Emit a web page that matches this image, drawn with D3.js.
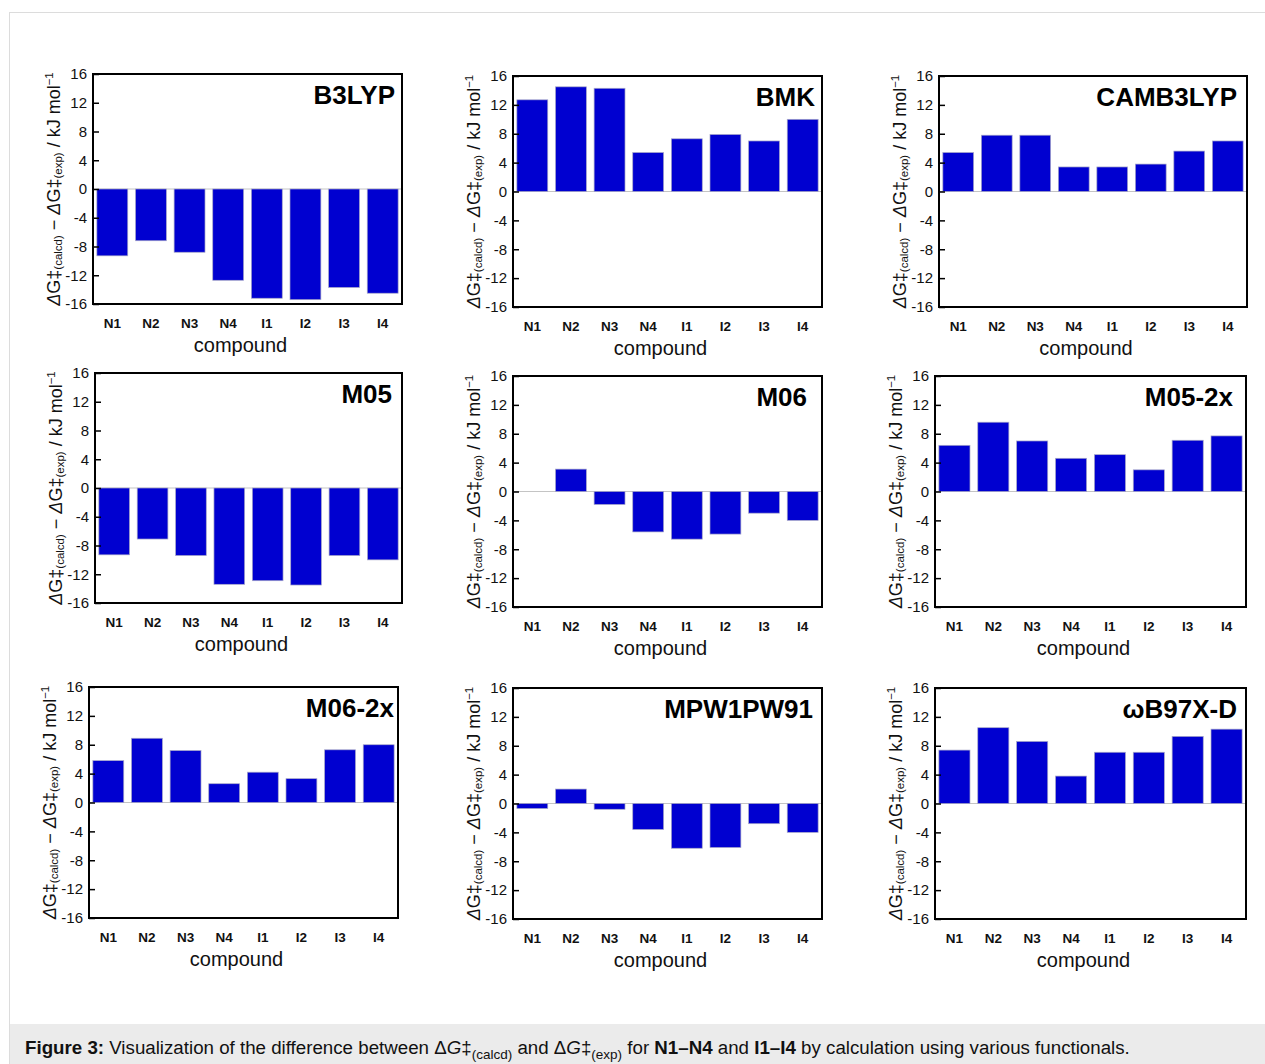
<!DOCTYPE html>
<html>
<head>
<meta charset="utf-8">
<script src="https://cdn.jsdelivr.net/npm/d3@7"></script>
<style>
  body { margin: 0; background: #fff; }
  svg { display: block; font-family: 'Liberation Sans', Arial, sans-serif; }
</style>
</head>
<body>
<div id="figure"></div>
<script>
// compounds on the x axis (same for every panel)
var compounds = ['N1', 'N2', 'N3', 'N4', 'I1', 'I2', 'I3', 'I4']
var yTicks = [-16, -12, -8, -4, 0, 4, 8, 12, 16]

// dG(calcd) - dG(exp) in kJ/mol, one list per functional
var b3lyp = [-9.3, -7.2, -8.8, -12.7, -15.2, -15.4, -13.7, -14.5]
var bmk = [12.7, 14.5, 14.3, 5.4, 7.3, 7.9, 7.0, 10.0]
var camb3lyp = [5.4, 7.8, 7.8, 3.4, 3.4, 3.8, 5.6, 7.0]
var m05 = [-9.3, -7.1, -9.4, -13.4, -12.9, -13.5, -9.4, -10.0]
var m06 = [0.0, 3.1, -1.8, -5.6, -6.6, -5.9, -3.0, -4.0]
var m052x = [6.4, 9.6, 7.0, 4.6, 5.1, 3.0, 7.1, 7.7]
var m062x = [5.8, 8.9, 7.2, 2.6, 4.2, 3.3, 7.3, 8.0]
var mpw1pw91 = [-0.7, 2.0, -0.8, -3.6, -6.2, -6.1, -2.8, -4.0]
var wb97xd = [7.4, 10.5, 8.6, 3.8, 7.1, 7.1, 9.3, 10.3]

var functionals = ['B3LYP', 'BMK', 'CAMB3LYP', 'M05', 'M06', 'M05-2x', 'M06-2x', 'MPW1PW91', 'ωB97X-D']
var series = [b3lyp, bmk, camb3lyp, m05, m06, m052x, m062x, mpw1pw91, wb97xd]

// frame box of every panel (left, top, right, bottom) and inset of the name
var panels = [
  [93, 74, 402, 304, 7], [513, 76, 822, 307, 7], [939, 76, 1247, 307, 10],
  [95, 373, 402, 603, 10], [513, 376, 822, 607, 15], [935, 376, 1246, 607, 13],
  [89, 687, 398, 918, 4], [513, 688, 822, 919, 9], [935, 688, 1246, 919, 9]
]

var W = 1265, H = 1064

var svg = d3
  .select('#figure')
  .append('svg')
  .attr('width', W)
  .attr('height', H)

// light frame around the figure and the grey caption band
svg.append('rect')
  .attr('x', 9.5).attr('y', 12.5)
  .attr('width', W).attr('height', H)
  .attr('fill', 'none')
  .attr('stroke', '#dcdcdc')
svg.append('rect')
  .attr('x', 10).attr('y', 1024)
  .attr('width', W).attr('height', 40)
  .attr('fill', '#ebebeb')

function drawPanel(i) {
  var box = panels[i]
  var left = box[0], top = box[1], right = box[2], bottom = box[3]
  var values = series[i]

  var x = d3.scaleBand()
    .domain(compounds)
    .range([left, right])
    .paddingInner(0.2)
    .paddingOuter(0.1)
  var y = d3.scaleLinear().domain([-16, 16]).range([bottom, top])

  var g = svg.append('g')

  // zero line
  g.append('line')
    .attr('x1', left).attr('x2', right)
    .attr('y1', y(0)).attr('y2', y(0))
    .attr('stroke', '#c4c4c4')
    .attr('stroke-width', 1)

  // bars
  g.selectAll('rect.bar')
    .data(values)
    .enter()
    .append('rect')
    .attr('class', 'bar')
    .attr('x', function (d, j) { return x(compounds[j]) })
    .attr('width', x.bandwidth())
    .attr('y', function (d) { return y(Math.max(0, d)) })
    .attr('height', function (d) { return Math.abs(y(d) - y(0)) })
    .attr('fill', '#0000d0')
    .attr('stroke', '#a9a9c8')
    .attr('stroke-width', 0.7)

  // y axis: inward ticks, labels on the left (plain hyphen minus like the original)
  var yAxis = g.append('g')
    .attr('transform', 'translate(' + left + ',0)')
    .call(
      d3.axisLeft(y)
        .tickValues(yTicks)
        .tickFormat(function (d) { return String(d) })
        .tickSizeInner(-6)
        .tickSizeOuter(0)
        .tickPadding(6)
    )
  yAxis.attr('font-size', null).attr('font-family', null)
  yAxis.select('.domain').remove()
  yAxis.selectAll('line').attr('stroke', '#000').attr('stroke-width', 1.5)
  yAxis.selectAll('text')
    .style('font-size', '15px')
    .attr('fill', '#111')

  // x axis labels
  var xAxis = g.append('g')
    .attr('transform', 'translate(0,' + bottom + ')')
    .call(d3.axisBottom(x).tickSize(0).tickPadding(14))
  xAxis.attr('font-size', null).attr('font-family', null)
  xAxis.select('.domain').remove()
  xAxis.selectAll('text')
    .style('font-size', '13.5px')
    .attr('font-weight', 'bold')
    .attr('fill', '#111')

  // frame
  g.append('rect')
    .attr('x', left).attr('y', top)
    .attr('width', right - left).attr('height', bottom - top)
    .attr('fill', 'none')
    .attr('stroke', '#000')
    .attr('stroke-width', 2)

  // functional name
  g.append('text')
    .attr('x', right - box[4])
    .attr('y', top + 30)
    .attr('text-anchor', 'end')
    .attr('font-size', 26)
    .attr('font-weight', 'bold')
    .text(functionals[i])

  // x title
  g.append('text')
    .attr('x', (left + right) / 2 - 7)
    .attr('y', bottom + 48)
    .attr('text-anchor', 'middle')
    .attr('font-size', 20)
    .attr('fill', '#111')
    .text('compound')

  // y title, rotated
  var yt = g.append('text')
    .attr('transform', 'translate(' + (left - 33) + ',' + (top + bottom) / 2 + ') rotate(-90)')
    .attr('text-anchor', 'middle')
    .attr('font-size', 18)
    .attr('fill', '#111')
  yt.append('tspan').attr('font-style', 'italic').text('Δ')
  yt.append('tspan').text('G‡')
  yt.append('tspan').attr('font-size', 11.5).attr('dy', 2).text('(calcd)')
  yt.append('tspan').attr('dy', -2).text(' − ')
  yt.append('tspan').attr('font-style', 'italic').text('Δ')
  yt.append('tspan').text('G‡')
  yt.append('tspan').attr('font-size', 11.5).attr('dy', 2).text('(exp)')
  yt.append('tspan').attr('dy', -2).text(' / kJ mol')
  yt.append('tspan').attr('font-size', 11.5).attr('dy', -7).text('−1')
}

for (var i = 0; i < functionals.length; i++) drawPanel(i)

// caption
var cap = svg.append('text')
  .attr('x', 25)
  .attr('y', 1054)
  .attr('font-size', 18)
  .attr('fill', '#111')
cap.append('tspan').attr('font-weight', 'bold').text('Figure 3:')
cap.append('tspan').text(' Visualization of the difference between Δ')
cap.append('tspan').attr('font-style', 'italic').text('G')
cap.append('tspan').text('‡')
cap.append('tspan').attr('font-size', 13).attr('dy', 5).text('(calcd)')
cap.append('tspan').attr('dy', -5).text(' and Δ')
cap.append('tspan').attr('font-style', 'italic').text('G')
cap.append('tspan').text('‡')
cap.append('tspan').attr('font-size', 13).attr('dy', 5).text('(exp)')
cap.append('tspan').attr('dy', -5).text(' for ')
cap.append('tspan').attr('font-weight', 'bold').text('N1–N4')
cap.append('tspan').text(' and ')
cap.append('tspan').attr('font-weight', 'bold').text('I1–I4')
cap.append('tspan').text(' by calculation using various functionals.')

// squeeze caption to the narrow width of the original
var capW = cap.node().getComputedTextLength()
cap.attr('transform', 'translate(25,0) scale(' + (1105 / capW) + ',1) translate(-25,0)')
</script>
</body>
</html>
